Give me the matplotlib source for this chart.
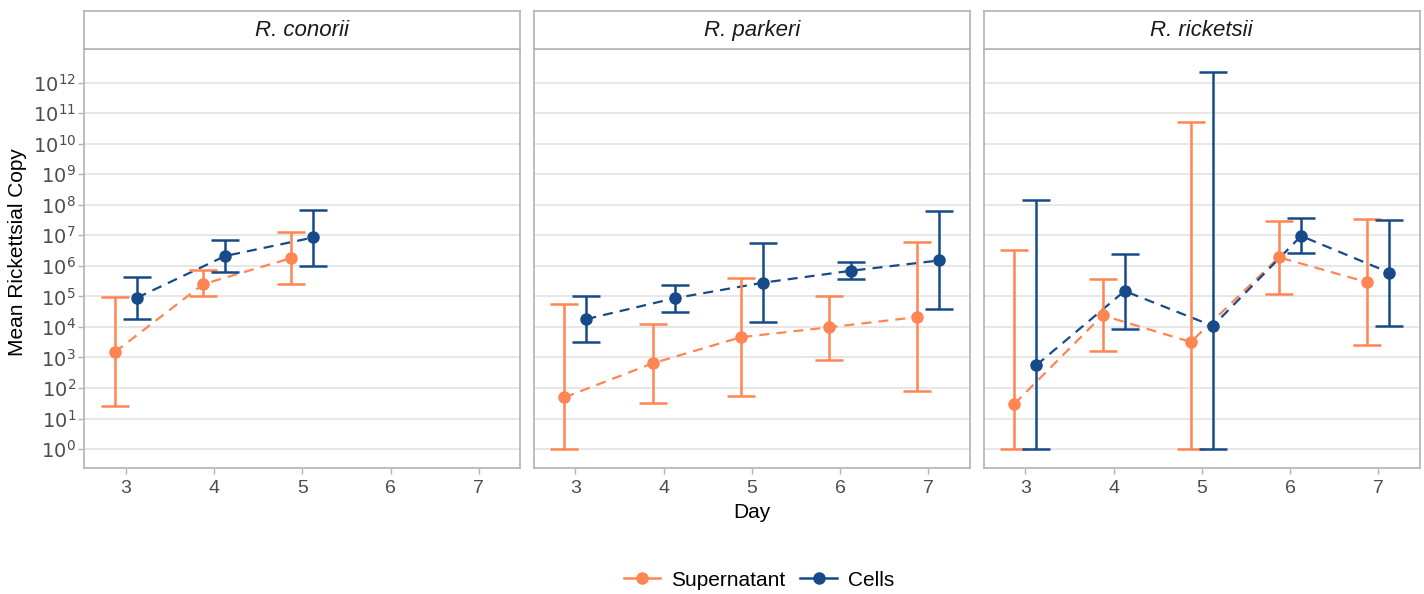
import numpy as np
import matplotlib
matplotlib.use("Agg")
import matplotlib.pyplot as plt
from matplotlib.lines import Line2D

plt.rcParams['font.family'] = ['Liberation Sans', 'DejaVu Sans']

# -------------------------
# data
# -------------------------
species = ["R. conorii", "R. parkeri", "R. ricketsii"]

conorii_days = [3, 4, 5]
conorii_sup_mean = [1.5e3, 2.5e5, 1.8e6]
conorii_sup_low = [26, 1.0e5, 2.5e5]
conorii_sup_high = [9.5e4, 7.5e5, 1.3e7]
conorii_cell_mean = [9.0e4, 2.1e6, 8.5e6]
conorii_cell_low = [1.8e4, 6.3e5, 1.0e6]
conorii_cell_high = [4.2e5, 6.8e6, 6.7e7]

parkeri_days = [3, 4, 5, 6, 7]
parkeri_sup_mean = [49, 640, 4.6e3, 9.7e3, 2.1e4]
parkeri_sup_low = [1, 33, 53, 850, 78]
parkeri_sup_high = [5.7e4, 1.2e4, 3.9e5, 1.0e5, 5.9e6]
parkeri_cell_mean = [1.8e4, 8.7e4, 2.8e5, 6.9e5, 1.5e6]
parkeri_cell_low = [3.3e3, 3.0e4, 1.4e4, 3.8e5, 3.9e4]
parkeri_cell_high = [1.0e5, 2.4e5, 5.6e6, 1.3e6, 6.3e7]

ricketsii_days = [3, 4, 5, 6, 7]
ricketsii_sup_mean = [30, 2.4e4, 3.2e3, 1.9e6, 2.9e5]
ricketsii_sup_low = [1, 1.6e3, 1, 1.2e5, 2.6e3]
ricketsii_sup_high = [3.4e6, 3.7e5, 5.0e10, 3.0e7, 3.3e7]
ricketsii_cell_mean = [560, 1.5e5, 1.07e4, 9.5e6, 6.0e5]
ricketsii_cell_low = [1, 8.5e3, 1, 2.6e6, 1.1e4]
ricketsii_cell_high = [1.4e8, 2.4e6, 2.3e12, 3.6e7, 3.2e7]

series_names = ["Supernatant", "Cells"]
colors = {"Supernatant": "#FF8552", "Cells": "#174A89"}

panels = [
    (conorii_days,
     (conorii_sup_mean, conorii_sup_low, conorii_sup_high),
     (conorii_cell_mean, conorii_cell_low, conorii_cell_high)),
    (parkeri_days,
     (parkeri_sup_mean, parkeri_sup_low, parkeri_sup_high),
     (parkeri_cell_mean, parkeri_cell_low, parkeri_cell_high)),
    (ricketsii_days,
     (ricketsii_sup_mean, ricketsii_sup_low, ricketsii_sup_high),
     (ricketsii_cell_mean, ricketsii_cell_low, ricketsii_cell_high)),
]

# -------------------------
# layout
# -------------------------
W, H = 1424, 594
fig = plt.figure(figsize=(W / 100, H / 100), dpi=100)

panel_lefts = [84.3, 533.7, 983.7]
panel_w = 436.0
plot_top, plot_bottom = 49.3, 467.7
strip_top = 11.0

border = "#B3B3B3"
grid_c = "#E3E3E3"
tick_c = "#4D4D4D"
dodge = 0.125

for i, (days, sup, cell) in enumerate(panels):
    left = panel_lefts[i] / W
    ax = fig.add_axes([left, (H - plot_bottom) / H, panel_w / W,
                       (plot_bottom - plot_top) / H])
    sax = fig.add_axes([left, (H - plot_top) / H, panel_w / W,
                        (plot_top - strip_top) / H])

    # strip
    sax.set_xticks([])
    sax.set_yticks([])
    for s in sax.spines.values():
        s.set_color(border)
        s.set_linewidth(1.2)
    sax.text(0.5, 0.48, species[i], style="italic", fontsize=16,
             ha="center", va="center", color="#1A1A1A",
             transform=sax.transAxes)

    ax.set_yscale("log")
    d = np.array(days, dtype=float)
    for name, (m, lo, hi), off in [("Supernatant", sup, -dodge),
                                   ("Cells", cell, dodge)]:
        m = np.array(m)
        lo = np.array(lo)
        hi = np.array(hi)
        c = colors[name]
        ax.plot(d + off, m, linestyle=(0, (4.5, 3.2)), color=c, lw=1.6,
                zorder=3)
        ax.errorbar(d + off, m, yerr=[m - lo, hi - m], fmt="o", color=c,
                    ms=8, elinewidth=1.8, capsize=10, capthick=1.8,
                    zorder=4)

    ax.set_xlim(2.528, 7.469)
    ax.set_ylim(10 ** -0.61, 10 ** 13.09)
    ax.set_xticks([3, 4, 5, 6, 7])
    ax.set_yticks([10.0 ** k for k in range(13)])
    ax.minorticks_off()
    ax.grid(axis="y", color=grid_c, lw=1.2)
    ax.set_axisbelow(True)
    for s in ax.spines.values():
        s.set_color(border)
        s.set_linewidth(1.2)
    ax.tick_params(axis="both", colors=border, labelcolor=tick_c,
                   length=4, width=1.0, labelsize=14)
    ax.tick_params(axis="x", pad=5)
    if i == 0:
        ax.set_yticklabels([r"$10^{%d}$" % k for k in range(13)])
        ax.tick_params(axis="y", pad=2)
    else:
        ax.tick_params(axis="y", length=0, labelleft=False)

# axis titles
fig.text(751.7 / W, 1 - 513 / H, "Day", ha="center", va="center",
         fontsize=15)
fig.text(18 / W, 1 - 252 / H, "Mean Rickettsial Copy", rotation=90,
         ha="center", va="center", fontsize=15)

# legend
handles = [Line2D([0], [0], color=colors[n], marker="o", ms=8, lw=1.8)
           for n in series_names]
fig.legend(handles, series_names, loc="center", ncol=2,
           bbox_to_anchor=(759 / W, 1 - 580 / H), frameon=False,
           fontsize=15, handlelength=1.75, columnspacing=0.7,
           handletextpad=0.55)

fig.savefig("out.png", dpi=100)
